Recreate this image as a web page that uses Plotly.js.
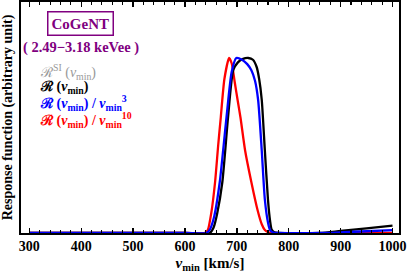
<!DOCTYPE html>
<html>
<head>
<meta charset="utf-8">
<script src="https://cdn.plot.ly/plotly-3.0.1.min.js"></script>
<style>html,body{margin:0;padding:0;background:#fff;}#chart{width:407px;height:274px;}</style>
</head>
<body>
<div id="chart"></div>
<script>
// v_min values [km/s] and response functions (normalized to peak = 1)
const vBlack = [300, 600, 648, 655, 662, 672, 683, 693, 702, 712, 722, 731, 738, 743, 748, 754, 760, 764, 767, 772, 780, 860, 900, 950, 1000];
const rBlack = [0, 0, 0, 0.03, 0.11, 0.29, 0.66, 0.93, 0.975, 0.995, 1.0, 0.99, 0.95, 0.88, 0.76, 0.47, 0.19, 0.07, 0.02, 0.004, 0, 0, 0.012, 0.026, 0.042];

const vBlue = [300, 600, 641, 648, 656, 667, 680, 690, 699, 710, 720, 728, 735, 741, 748, 754, 760, 764, 770, 778, 870, 900, 950, 1000];
const rBlue = [0, 0, 0, 0.02, 0.09, 0.29, 0.66, 0.92, 1.0, 0.99, 0.965, 0.93, 0.87, 0.76, 0.47, 0.19, 0.06, 0.017, 0.003, 0, 0, 0.004, 0.01, 0.017];

const vRed = [300, 600, 638, 644, 651, 658, 664, 669, 676, 685, 690, 696, 702, 707, 716, 728, 740, 748, 754, 762, 770, 1000];
const rRed = [0, 0, 0, 0.017, 0.12, 0.29, 0.5, 0.66, 0.88, 1.0, 0.97, 0.86, 0.75, 0.66, 0.47, 0.29, 0.13, 0.05, 0.017, 0.003, 0, 0];

const xTickVals = [300, 400, 500, 600, 700, 800, 900, 1000];
const xTickText = ['300', '400', '500', '600', '700', '800', '900', '1000'];

const serif = '"Liberation Serif", "DejaVu Serif", serif';
const purple = 'rgb(128,0,128)';

const traces = [
  {x: vRed, y: rRed, mode: 'lines', line: {color: '#ff0000', width: 2.3, shape: 'spline', smoothing: 0.6}, hoverinfo: 'skip'},
  {x: vBlack, y: rBlack, mode: 'lines', line: {color: '#000000', width: 2.3, shape: 'spline', smoothing: 0.6}, hoverinfo: 'skip'},
  {x: vBlue, y: rBlue, mode: 'lines', line: {color: '#0000ff', width: 2.3, shape: 'spline', smoothing: 0.6}, hoverinfo: 'skip'}
];

const layout = {
  width: 407, height: 274,
  margin: {l: 21, r: 8, t: 2, b: 41},
  paper_bgcolor: '#fff', plot_bgcolor: '#fff',
  showlegend: false,
  font: {family: serif, color: '#000', size: 14},
  xaxis: {
    range: [284, 1012.5],
    tickvals: xTickVals, ticktext: xTickText.map(t => '<b>' + t + '</b>'),
    ticks: 'inside', ticklen: 5, tickwidth: 1.3, tickcolor: '#000',
    ticklabeloverflow: 'allow',
    minor: {dtick: 20, tick0: 300, ticks: 'inside', ticklen: 3, tickwidth: 1.1, tickcolor: '#000', showgrid: false},
    showline: true, linecolor: '#000', linewidth: 1.6, mirror: 'ticks',
    showgrid: false, zeroline: false,
    tickfont: {family: serif, size: 14, color: '#000'},
    title: {text: '<b><i>v</i><sub>min</sub> [km/s]</b>', font: {family: serif, size: 15, color: '#000'}, standoff: 4}
  },
  yaxis: {
    range: [0, 1.32],
    showticklabels: false, ticks: '',
    showline: true, linecolor: '#000', linewidth: 1.6, mirror: true,
    showgrid: false, zeroline: false,
    title: {text: '<b>Response function (arbitrary unit)</b>', font: {family: serif, size: 14, color: '#000'}, standoff: 3}
  },
  annotations: [
    {xref: 'paper', yref: 'paper', x: 0.157, y: 0.905, xanchor: 'center', yanchor: 'middle', showarrow: false,
     text: '<b>CoGeNT</b>', font: {family: serif, size: 15, color: purple},
     bordercolor: purple, borderwidth: 1.5, borderpad: 3, bgcolor: '#fff'},
    {xref: 'paper', yref: 'paper', x: 0.159, y: 0.805, xanchor: 'center', yanchor: 'middle', showarrow: false,
     text: '<b>( 2.49\u22123.18 keVee )</b>', font: {family: serif, size: 14.5, color: purple}},
    {xref: 'paper', yref: 'paper', x: 0.045, y: 0.697, xanchor: 'left', yanchor: 'middle', showarrow: false,
     text: '\u211B<sup>SI</sup> (<i>v</i><sub>min</sub>)', font: {family: serif, size: 14, color: '#999999'}},
    {xref: 'paper', yref: 'paper', x: 0.045, y: 0.628, xanchor: 'left', yanchor: 'middle', showarrow: false,
     text: '<b>\u211B (<i>v</i><sub>min</sub>)</b>', font: {family: serif, size: 14, color: '#000000'}},
    {xref: 'paper', yref: 'paper', x: 0.045, y: 0.563, xanchor: 'left', yanchor: 'middle', showarrow: false,
     text: '<b>\u211B (<i>v</i><sub>min</sub>) / <i>v</i><sub>min</sub><sup>3</sup></b>', font: {family: serif, size: 14, color: '#0000ff'}},
    {xref: 'paper', yref: 'paper', x: 0.045, y: 0.489, xanchor: 'left', yanchor: 'middle', showarrow: false,
     text: '<b>\u211B (<i>v</i><sub>min</sub>) / <i>v</i><sub>min</sub><sup>10</sup></b>', font: {family: serif, size: 14, color: '#ff0000'}}
  ]
};

Plotly.newPlot('chart', traces, layout, {staticPlot: true, displayModeBar: false});
</script>
</body>
</html>
